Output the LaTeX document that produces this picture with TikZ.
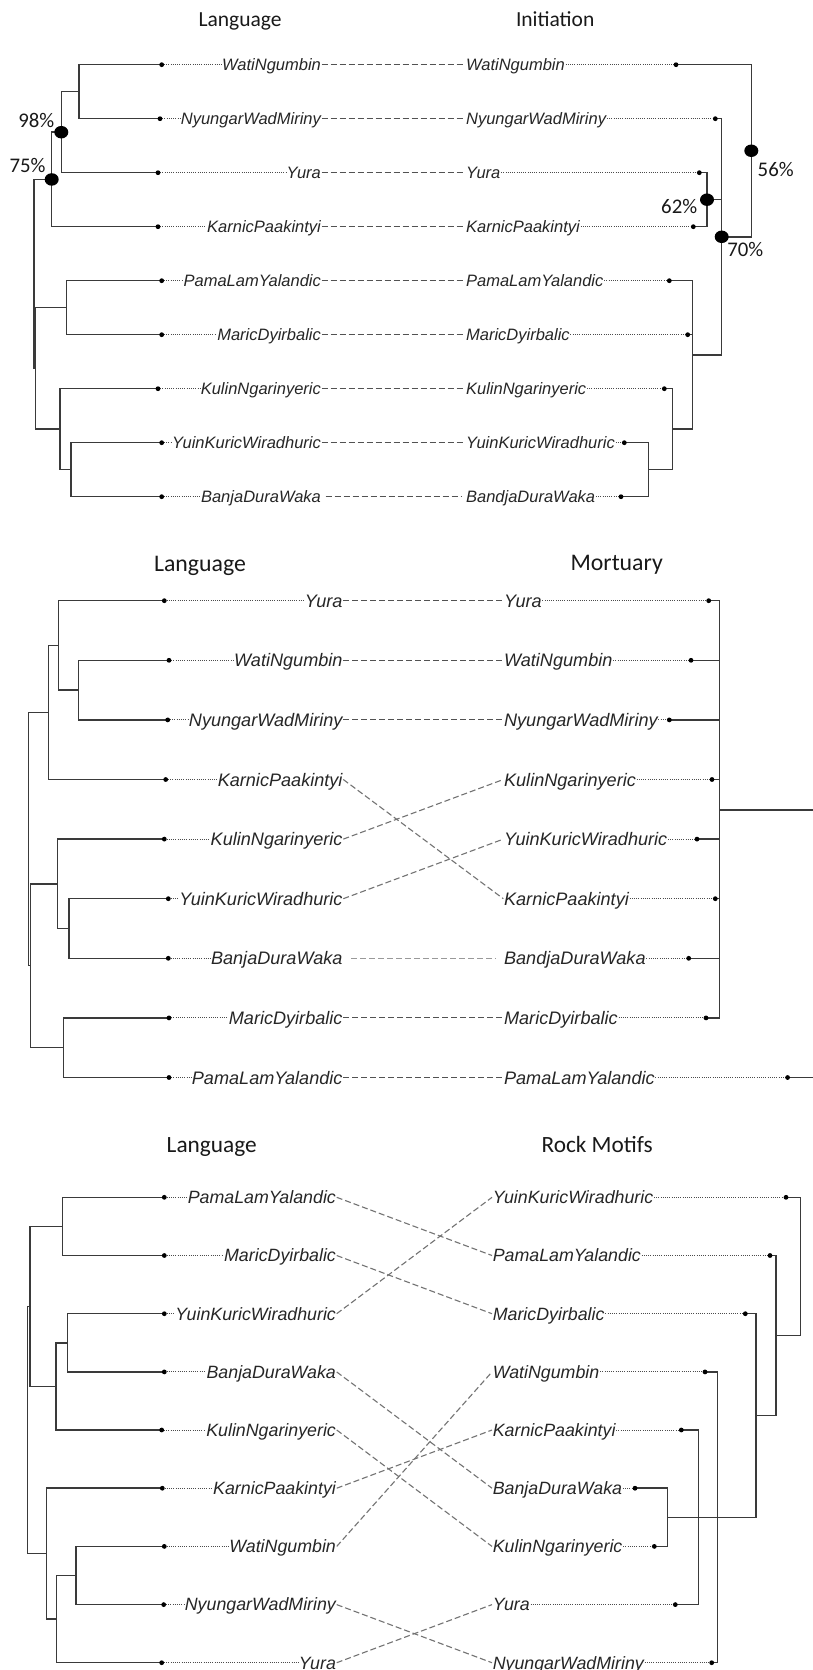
\documentclass[tikz,border=0pt]{standalone}
\usepackage{fontspec}
\usetikzlibrary{shapes.geometric}
\newfontfamily\arialf{Liberation Sans}
\newfontfamily\calf{Carlito}
\definecolor{treecol}{HTML}{3A3A3A}
\newcommand\Hb[2]{\draw[tree] (#1 |- #2) -- (#2);}
\newcommand\Vb[3]{\draw[tree] (#1 |- #2) -- (#1 |- #3);}
\begin{document}
\begin{tikzpicture}[x=1pt,y=-1pt,
  tree/.style={draw=treecol, line width=1.45pt, line cap=rect},
  dotln/.style={draw=black!70, line width=1pt, dash pattern=on 0.9pt off 1.3pt},
  lnkd/.style={draw=black!68, line width=1.1pt, dash pattern=on 6pt off 3pt},
  lnkc/.style={draw=black!55, line width=1.1pt, dash pattern=on 6pt off 3pt},
  lnkl/.style={draw=black!40, line width=1.1pt, dash pattern=on 6pt off 3pt},
  labA/.style={inner sep=0pt, inner xsep=0.6pt, text height=11.8pt, text depth=0pt, text=black!85, font=\arialf\itshape\fontsize{16.5}{18}\selectfont},
  labB/.style={inner sep=0pt, inner xsep=0.6pt, text height=13.0pt, text depth=0pt, text=black!85, font=\arialf\itshape\fontsize{18.1}{20}\selectfont},
  labC/.style={inner sep=0pt, inner xsep=0.6pt, text height=12.7pt, text depth=0pt, text=black!85, font=\arialf\itshape\fontsize{17.8}{20}\selectfont},
  ttlA/.style={anchor=base, inner sep=0pt, text=black!90, font=\calf\fontsize{21.5}{24}\selectfont},
  ttlB/.style={anchor=base, inner sep=0pt, text=black!90, font=\calf\fontsize{23.8}{26}\selectfont},
  ttlC/.style={anchor=base, inner sep=0pt, text=black!90, font=\calf\fontsize{23.3}{26}\selectfont},
  pct/.style={inner sep=0pt, text=black!90, font=\calf\fontsize{20.8}{24}\selectfont},
  boot/.style={ellipse, fill=black, inner sep=0pt, minimum width=14pt, minimum height=12.5pt}]
\useasboundingbox (0,0) rectangle (812,1670);
\fill[white] (0,0) rectangle (812,1670);

% ================= Panel 1: Language / Initiation =================
\node[ttlA] (aTL) at (240,27) {Language};
\node[ttlA] (aTR) at (555.2,26.7) {Initiation};

\foreach \n/\x/\y/\t in {aLwa/161.7/64.7/WatiNgumbin, aLny/160/118.7/NyungarWadMiriny, aLyu/158/172.7/Yura, aLka/158/226.7/KarnicPaakintyi, aLpa/161.7/280.7/PamaLamYalandic, aLma/161.7/334.7/MaricDyirbalic, aLku/158/388.7/KulinNgarinyeric, aLyk/161.7/442.7/YuinKuricWiradhuric, aLba/161.7/496.7/BanjaDuraWaka}{
  \coordinate (\n) at (\x,\y);
  \node[labA,anchor=east] (\n-T) at (321.7,\y) {\t};
  \draw[dotln] (\n) -- (\n-T.west);
}
\foreach \n/\x/\y/\t in {aRwa/676/64.7/WatiNgumbin, aRny/715.3/118.7/NyungarWadMiriny, aRyu/699.3/172.7/Yura, aRka/693.3/226.7/KarnicPaakintyi, aRpa/669.3/280.7/PamaLamYalandic, aRma/687.7/334.7/MaricDyirbalic, aRku/664.3/388.7/KulinNgarinyeric, aRyk/624.3/442.7/YuinKuricWiradhuric, aRba/621/496.7/BandjaDuraWaka}{
  \coordinate (\n) at (\x,\y);
  \node[labA,anchor=west] (\n-T) at (465.3,\y) {\t};
  \draw[dotln] (\n-T.east) -- (\n);
}
% links
\draw[lnkd] (aLwa-T.east) -- (aRwa-T.west);
\draw[lnkd] (aLny-T.east) -- (aRny-T.west);
\draw[lnkd] (aLyu-T.east) -- (aRyu-T.west);
\draw[lnkd] (aLka-T.east) -- (aRka-T.west);
\draw[lnkd] (aLpa-T.east) -- (aRpa-T.west);
\draw[lnkd] (aLma-T.east) -- (aRma-T.west);
\draw[lnkd] (aLku-T.east) -- (aRku-T.west);
\draw[lnkd] (aLyk-T.east) -- (aRyk-T.west);
\draw[lnkd, shorten <=4pt, shorten >=3pt] (aLba-T.east) -- (aRba-T.west);

% left tree
\coordinate (aL1) at (79,91.7);
\coordinate (aL2) at (61.3,132.2);
\coordinate (aL3) at (51.7,179.45);
\coordinate (aL4) at (66.7,307.7);
\coordinate (aL5) at (71,469.7);
\coordinate (aL6) at (60,429.2);
\coordinate (aL7) at (35.7,368.45);
\coordinate (aL0) at (34,273.95);
\Vb{aL1}{aLwa}{aLny} \Hb{aL1}{aLwa} \Hb{aL1}{aLny}
\Vb{aL2}{aL1}{aLyu} \Hb{aL2}{aL1} \Hb{aL2}{aLyu}
\Vb{aL3}{aL2}{aLka} \Hb{aL3}{aL2} \Hb{aL3}{aLka}
\Vb{aL4}{aLpa}{aLma} \Hb{aL4}{aLpa} \Hb{aL4}{aLma}
\Vb{aL5}{aLyk}{aLba} \Hb{aL5}{aLyk} \Hb{aL5}{aLba}
\Vb{aL6}{aLku}{aL5} \Hb{aL6}{aLku} \Hb{aL6}{aL5}
\Vb{aL7}{aL4}{aL6} \Hb{aL7}{aL4} \Hb{aL7}{aL6}
\Vb{aL0}{aL3}{aL7} \Hb{aL0}{aL3} \Hb{aL0}{aL7}

% right tree
\coordinate (aR1) at (707,199.7);
\coordinate (aR2) at (648.7,469.7);
\coordinate (aR3) at (672.7,429.2);
\coordinate (aR4) at (692.7,354.95);
\coordinate (aR5) at (721.7,236.8);
\coordinate (aR6) at (751.3,150.75);
\Vb{aR1}{aRyu}{aRka} \Hb{aR1}{aRyu} \Hb{aR1}{aRka}
\Vb{aR2}{aRyk}{aRba} \Hb{aR2}{aRyk} \Hb{aR2}{aRba}
\Vb{aR3}{aRku}{aR2} \Hb{aR3}{aRku} \Hb{aR3}{aR2}
\Vb{aR4}{aRpa}{aR3} \Hb{aR4}{aRpa} \Hb{aR4}{aRma} \Hb{aR4}{aR3}
\Vb{aR5}{aRny}{aR4} \Hb{aR5}{aRny} \Hb{aR5}{aR1} \Hb{aR5}{aR4}
\Vb{aR6}{aRwa}{aR5} \Hb{aR6}{aRwa} \Hb{aR6}{aR5}

% support values
\node[boot] (aB98) at (aL2) {};
\node[boot] (aB75) at (aL3) {};
\node[boot] (aB62) at (aR1) {};
\node[boot] (aB70) at (aR5) {};
\node[boot] (aB56) at (aR6) {};
\node[pct] (aP98) at (36.3,120.7) {98\%};
\node[pct] (aP75) at (27.5,165.7) {75\%};
\node[pct] (aP62) at (679.2,206.7) {62\%};
\node[pct] (aP70) at (745.3,249.3) {70\%};
\node[pct] (aP56) at (775.7,169) {56\%};

% ================= Panel 2: Language / Mortuary =================
\node[ttlB] (bTL) at (200,571.7) {Language};
\node[ttlB] (bTR) at (616.7,570) {Mortuary};

\foreach \n/\x/\y/\t in {bLyu/164.3/600.7/Yura, bLwa/169/660.3/WatiNgumbin, bLny/167.7/719.9/NyungarWadMiriny, bLka/165.7/779.5/KarnicPaakintyi, bLku/164.3/839.1/KulinNgarinyeric, bLyk/168.3/898.7/YuinKuricWiradhuric, bLba/168.3/958.3/BanjaDuraWaka, bLma/169/1017.9/MaricDyirbalic, bLpa/169/1077.5/PamaLamYalandic}{
  \coordinate (\n) at (\x,\y);
  \node[labB,anchor=east] (\n-T) at (343.3,\y) {\t};
  \draw[dotln] (\n) -- (\n-T.west);
}
\foreach \n/\x/\y/\t in {bRyu/708.7/600.7/Yura, bRwa/691/660.3/WatiNgumbin, bRny/669.3/719.9/NyungarWadMiriny, bRku/712/779.5/KulinNgarinyeric, bRyk/697/839.1/YuinKuricWiradhuric, bRka/715.3/898.7/KarnicPaakintyi, bRba/688.7/958.3/BandjaDuraWaka, bRma/706/1017.9/MaricDyirbalic, bRpa/787.6/1077.5/PamaLamYalandic}{
  \coordinate (\n) at (\x,\y);
  \node[labB,anchor=west] (\n-T) at (503.3,\y) {\t};
  \draw[dotln] (\n-T.east) -- (\n);
}
\draw[lnkd] (bLyu-T.east) -- (bRyu-T.west);
\draw[lnkd] (bLwa-T.east) -- (bRwa-T.west);
\draw[lnkd] (bLny-T.east) -- (bRny-T.west);
\draw[lnkc] (bLka-T.east) -- (bRka-T.west);
\draw[lnkc] (bLku-T.east) -- (bRku-T.west);
\draw[lnkc] (bLyk-T.east) -- (bRyk-T.west);
\draw[lnkl, shorten <=8pt, shorten >=7pt] (bLba-T.east) -- (bRba-T.west);
\draw[lnkd] (bLma-T.east) -- (bRma-T.west);
\draw[lnkd] (bLpa-T.east) -- (bRpa-T.west);

\coordinate (bL1) at (78.3,690.1);
\coordinate (bL2) at (58.3,645.4);
\coordinate (bL3) at (48.3,712.45);
\coordinate (bL4) at (69,928.5);
\coordinate (bL5) at (57.3,883.8);
\coordinate (bL6) at (63.7,1047.7);
\coordinate (bL7) at (30.7,965.75);
\coordinate (bL0) at (28.3,839.1);
\Vb{bL1}{bLwa}{bLny} \Hb{bL1}{bLwa} \Hb{bL1}{bLny}
\Vb{bL2}{bLyu}{bL1} \Hb{bL2}{bLyu} \Hb{bL2}{bL1}
\Vb{bL3}{bL2}{bLka} \Hb{bL3}{bL2} \Hb{bL3}{bLka}
\Vb{bL4}{bLyk}{bLba} \Hb{bL4}{bLyk} \Hb{bL4}{bLba}
\Vb{bL5}{bLku}{bL4} \Hb{bL5}{bLku} \Hb{bL5}{bL4}
\Vb{bL6}{bLma}{bLpa} \Hb{bL6}{bLma} \Hb{bL6}{bLpa}
\Vb{bL7}{bL5}{bL6} \Hb{bL7}{bL5} \Hb{bL7}{bL6}
\Vb{bL0}{bL3}{bL7} \Hb{bL0}{bL3} \Hb{bL0}{bL7}

\coordinate (bR1) at (719.3,810);
\coordinate (bE1) at (812,810);
\coordinate (bE2) at (812,1077.5);
\Vb{bR1}{bRyu}{bRma}
\foreach \n in {bRyu,bRwa,bRny,bRku,bRyk,bRka,bRba,bRma} {\Hb{bR1}{\n}}
\draw[tree] (bR1) -- (bE1);
\draw[tree] (bRpa) -- (bE2);

% ================= Panel 3: Language / Rock Motifs =================
\node[ttlC] (cTL) at (211.7,1152.7) {Language};
\node[ttlC] (cTR) at (597.2,1152.7) {Rock Motifs};

\foreach \n/\x/\y/\t in {cLpa/164.3/1197.3/PamaLamYalandic, cLma/164.3/1255.5/MaricDyirbalic, cLyk/164.3/1313.7/YuinKuricWiradhuric, cLba/164.3/1371.9/BanjaDuraWaka, cLku/161.7/1430.0/KulinNgarinyeric, cLka/162.3/1488.2/KarnicPaakintyi, cLwa/164.3/1546.4/WatiNgumbin, cLny/163.7/1604.6/NyungarWadMiriny, cLyu/161.7/1662.7/Yura}{
  \coordinate (\n) at (\x,\y);
  \node[labC,anchor=east] (\n-T) at (336.7,\y) {\t};
  \draw[dotln] (\n) -- (\n-T.west);
}
\foreach \n/\x/\y/\t in {cRyk/786/1197.3/YuinKuricWiradhuric, cRpa/770/1255.5/PamaLamYalandic, cRma/745.3/1313.7/MaricDyirbalic, cRwa/705/1371.9/WatiNgumbin, cRka/681.3/1430.0/KarnicPaakintyi, cRba/635/1488.2/BanjaDuraWaka, cRku/654.3/1546.4/KulinNgarinyeric, cRyu/675.3/1604.6/Yura, cRny/711.7/1662.7/NyungarWadMiriny}{
  \coordinate (\n) at (\x,\y);
  \node[labC,anchor=west] (\n-T) at (492,\y) {\t};
  \draw[dotln] (\n-T.east) -- (\n);
}
\draw[lnkc] (cLpa-T.east) -- (cRpa-T.west);
\draw[lnkc] (cLma-T.east) -- (cRma-T.west);
\draw[lnkc] (cLyk-T.east) -- (cRyk-T.west);
\draw[lnkc] (cLba-T.east) -- (cRba-T.west);
\draw[lnkc] (cLku-T.east) -- (cRku-T.west);
\draw[lnkc] (cLka-T.east) -- (cRka-T.west);
\draw[lnkc] (cLwa-T.east) -- (cRwa-T.west);
\draw[lnkc] (cLny-T.east) -- (cRny-T.west);
\draw[lnkc] (cLyu-T.east) -- (cRyu-T.west);

\coordinate (cL1) at (62.7,1226.4);
\coordinate (cL2) at (67.7,1342.8);
\coordinate (cL3) at (56,1386.4);
\coordinate (cL4) at (30,1306.4);
\coordinate (cL5) at (76,1575.5);
\coordinate (cL6) at (56.7,1619.15);
\coordinate (cL7) at (46.7,1553.7);
\coordinate (cL0) at (27.3,1430.05);
\Vb{cL1}{cLpa}{cLma} \Hb{cL1}{cLpa} \Hb{cL1}{cLma}
\Vb{cL2}{cLyk}{cLba} \Hb{cL2}{cLyk} \Hb{cL2}{cLba}
\Vb{cL3}{cL2}{cLku} \Hb{cL3}{cL2} \Hb{cL3}{cLku}
\Vb{cL4}{cL1}{cL3} \Hb{cL4}{cL1} \Hb{cL4}{cL3}
\Vb{cL5}{cLwa}{cLny} \Hb{cL5}{cLwa} \Hb{cL5}{cLny}
\Vb{cL6}{cL5}{cLyu} \Hb{cL6}{cL5} \Hb{cL6}{cLyu}
\Vb{cL7}{cLka}{cL6} \Hb{cL7}{cLka} \Hb{cL7}{cL6}
\Vb{cL0}{cL4}{cL7} \Hb{cL0}{cL4} \Hb{cL0}{cL7}

\coordinate (cR1) at (667.7,1517.3);
\coordinate (cR2) at (698.7,1517.3);
\coordinate (cR3) at (717.7,1517.3);
\coordinate (cR4) at (756,1415.5);
\coordinate (cR5) at (776,1335.5);
\coordinate (cR6) at (800.3,1266.4);
\Vb{cR1}{cRba}{cRku} \Hb{cR1}{cRba} \Hb{cR1}{cRku}
\Vb{cR2}{cRka}{cRyu} \Hb{cR2}{cRka} \Hb{cR2}{cRyu}
\Vb{cR3}{cRwa}{cRny} \Hb{cR3}{cRwa} \Hb{cR3}{cRny}
\Vb{cR4}{cRma}{cR1} \Hb{cR4}{cRma} \Hb{cR4}{cR1}
\Vb{cR5}{cRpa}{cR4} \Hb{cR5}{cRpa} \Hb{cR5}{cR4}
\Vb{cR6}{cRyk}{cR5} \Hb{cR6}{cRyk} \Hb{cR6}{cR5}

% tip dots
\foreach \n in {aLwa,aLny,aLyu,aLka,aLpa,aLma,aLku,aLyk,aLba,aRwa,aRny,aRyu,aRka,aRpa,aRma,aRku,aRyk,aRba,
  bLyu,bLwa,bLny,bLka,bLku,bLyk,bLba,bLma,bLpa,bRyu,bRwa,bRny,bRku,bRyk,bRka,bRba,bRma,bRpa,
  cLpa,cLma,cLyk,cLba,cLku,cLka,cLwa,cLny,cLyu,cRyk,cRpa,cRma,cRwa,cRka,cRba,cRku,cRyu,cRny}
  {\fill[black] (\n) circle (2.4);}
\end{tikzpicture}
\end{document}
